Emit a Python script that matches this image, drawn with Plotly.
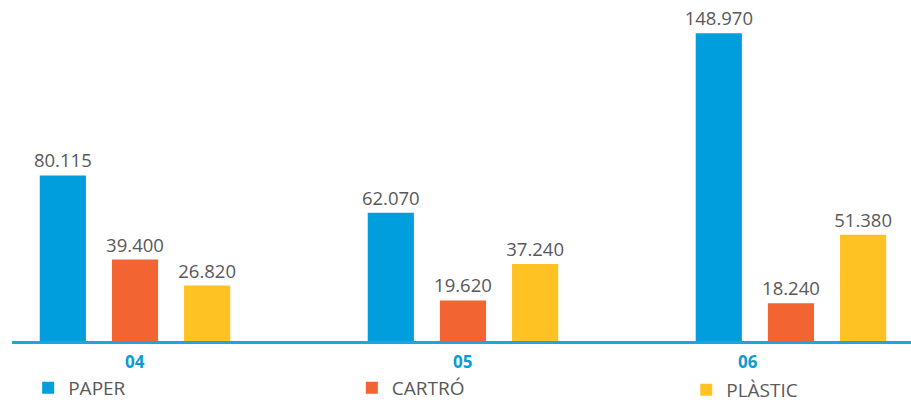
import plotly.graph_objects as go

years = ["04", "05", "06"]
series_names = ["PAPER", "CARTRÓ", "PLÀSTIC"]
paper = [80115, 62070, 148970]
cartro = [39400, 19620, 18240]
plastic = [26820, 37240, 51380]
colors = ["#009EDD", "#F26532", "#FFC222"]

def fmt(v):
    return f"{v:,}".replace(",", ".")

legend_ids = ["legend", "legend2", "legend3"]

fig = go.Figure()
for name, vals, col, lg in zip(series_names, [paper, cartro, plastic], colors, legend_ids):
    fig.add_trace(go.Bar(
        x=years, y=vals, name=name, marker=dict(color=col, line=dict(width=0)),
        text=[fmt(v) for v in vals], textposition="outside", constraintext="none",
        textfont=dict(family="Open Sans", size=18.5, color="#595959"),
        cliponaxis=False, legend=lg,
    ))

leg_font = dict(family="Open Sans", size=19, color="#595959")
fig.update_layout(
    width=911, height=404,
    margin=dict(l=12, r=0, t=0, b=63, autoexpand=False),
    paper_bgcolor="white", plot_bgcolor="white",
    barmode="group", bargap=0.34, bargroupgap=0.36,
    font=dict(family="Open Sans", color="#595959"),
    showlegend=True,
    legend=dict(x=0.018, xanchor="left", y=-0.082, yanchor="top", font=leg_font),
    legend2=dict(x=0.378, xanchor="left", y=-0.082, yanchor="top", font=leg_font),
    legend3=dict(x=0.750, xanchor="left", y=-0.088, yanchor="top", font=leg_font),
    xaxis=dict(type="category", range=[-0.375, 2.366], showgrid=False, automargin=False,
               showline=True, linecolor="#1EA5DE", linewidth=3,
               ticks="", showticklabels=False, fixedrange=True),
    yaxis=dict(range=[0, 165000], visible=False, fixedrange=True, automargin=False),
)

label_pos = [0, 1, 1.87]
for yr, xp in zip(years, label_pos):
    fig.add_annotation(x=xp, y=0, xref="x", yref="y", yanchor="top", yshift=-7,
                       text=f"<b>{yr}</b>", showarrow=False,
                       font=dict(family="Open Sans", size=17, color="#0A9BD8"))

fig.write_html("out.html", config={"displayModeBar": False})
with open("out.html", encoding="utf-8") as f:
    html = f.read()
html = html.replace("<body>", '<body style="margin:0;padding:0;overflow:hidden">', 1)
with open("out.html", "w", encoding="utf-8") as f:
    f.write(html)
